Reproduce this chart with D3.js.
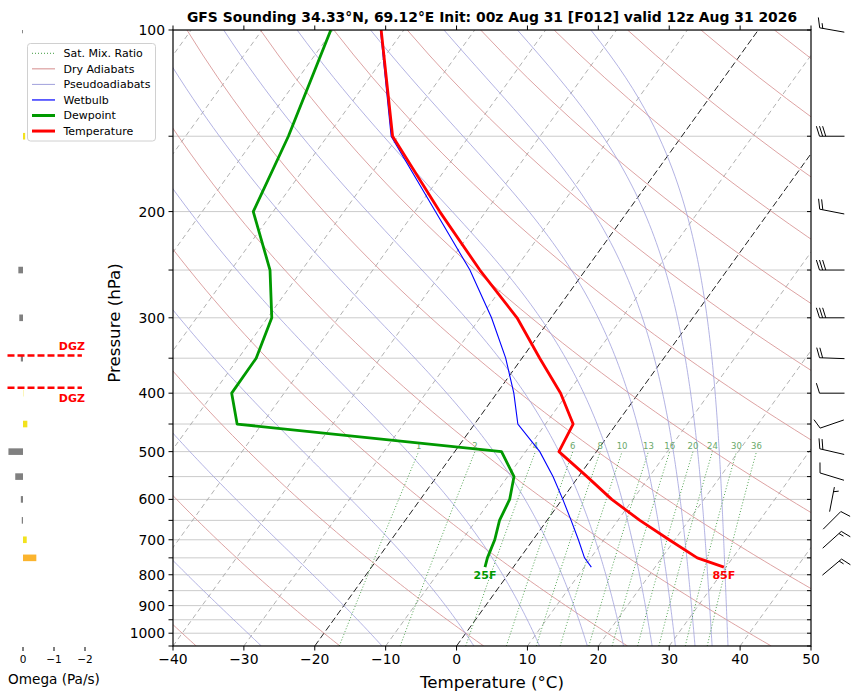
<!DOCTYPE html>
<html>
<head>
<meta charset="utf-8">
<script src="https://cdn.jsdelivr.net/npm/d3@7"></script>
<style>
  body { margin: 0; background: #fff; }
  svg { display: block; font-family: "DejaVu Sans", sans-serif; }
</style>
</head>
<body>
<div id="chart"></div>
<script>
// ---- sounding data ----
const levels      = [777, 750, 700, 650, 600, 550, 500, 450, 400, 350, 300, 250, 200, 150, 100];
const temperature = [29.7, 25.0, 19.2, 13.1, 7.0, 1.2, -5.3, -6.1, -11.0, -17.5, -24.8, -34.9, -46.5, -60.8, -73.2];
const dewpoint    = [-4.0, -4.6, -5.4, -6.7, -7.4, -9.1, -13.4, -53.5, -57.4, -57.5, -59.4, -64.5, -72.8, -75.5, -80.3];
const wetbulb     = [11.0, 9.1, 6.4, 3.4, 0.1, -3.6, -8.0, -13.9, -17.6, -22.3, -28.4, -36.3, -47.1, -61.0, -73.3];

const omegaLevels = [750, 700, 650, 600, 550, 500, 450, 400, 350, 300, 250, 200, 150, 100];
const omegaValues = [-0.43, -0.12, 0.04, 0.07, 0.25, 0.47, -0.14, -0.01, 0.07, 0.12, 0.15, 0.0, -0.07, 0.03];

const windLevels = [777, 700, 650, 600, 550, 500, 450, 400, 350, 300, 250, 200, 150, 100];
const windDir    = [50, 48, 45, 11, 287, 283, 251, 270, 272, 270, 270, 281, 270, 280];
const windSpeed  = [15, 15, 10, 5, 10, 20, 10, 10, 20, 30, 30, 20, 30, 15];

// ---- axes / background line sets ----
const pressureTicks = [100, 150, 200, 250, 300, 350, 400, 450, 500, 550, 600, 650, 700, 750, 800, 850, 900, 950, 1000, 1050];
const pressureLabels = [100, 200, 300, 400, 500, 600, 700, 800, 900, 1000];
const tempTicks = [-40, -30, -20, -10, 0, 10, 20, 30, 40, 50];
const omegaTicks = [0, -1, -2];
const isotherms = [-130, -120, -110, -100, -90, -80, -70, -60, -50, -40, -30, -20, -10, 0, 10, 20, 30, 40, 50];
const highlightIsotherms = [0, -20];
const dryAdiabatT0 = [-40, -20, 0, 20, 40, 60, 80, 100, 120, 140, 160, 180, 200, 220, 240, 260];
const moistTheta = [223.15, 243.15, 263.15, 283.15, 303.15, 323.15, 343.15, 363.15, 383.15, 403.15, 423.15, 443.15];
const mixRatios = [1, 2, 4, 6, 8, 10, 13, 16, 20, 24, 30, 36];

const title = "GFS Sounding 34.33°N, 69.12°E Init: 00z Aug 31 [F012] valid 12z Aug 31 2026";

// ---- constants ----
const Rd = 287.04749, Cp = 1004.6662, Lv = 2.50084e6, eps = 0.6219569;
const kappa = Rd / Cp;

const width = 856, height = 697;
const plotL = 173, plotR = 811, plotT = 30, plotB = 646;
const skew = 0.72; // px of x per px of height

const x = d3.scaleLinear().domain([-40, 50]).range([plotL, plotR]);
const y = d3.scaleLog().domain([1050, 100]).range([plotB, plotT]);
const xo = d3.scaleLinear().domain([0.5, -2.5]).range([7.5, 100.5]);

function sx(t, p) { return x(t) + skew * (plotB - y(p)); }

const line = d3.line().x(d => sx(d.t, d.p)).y(d => y(d.p));

function satVap(tk) { return 6.112 * Math.exp(17.67 * (tk - 273.15) / (tk - 29.65)); }
function satMix(p, tk) { const es = satVap(tk); return eps * es / (p - es); }
function dTdp(p, tk) {
    const rs = satMix(p, tk);
    return (Rd * tk + Lv * rs) / (Cp + Lv * Lv * rs * eps / (Rd * tk * tk)) / p;
}

const pSamples = d3.range(1050, 99, -10);

function dryLine(t0) {
    return pSamples.map(p => ({ p, t: (t0 + 273.15) * Math.pow(p / 1000, kappa) - 273.15 }));
}

function moistLine(theta) {
    let p = 100, T = theta * Math.pow(p / 1000, kappa);
    const pts = [{ p, t: T - 273.15 }];
    const dp = 5;
    while (p < 1050) {
        const k1 = dTdp(p, T);
        const k2 = dTdp(p + dp / 2, T + dp / 2 * k1);
        const k3 = dTdp(p + dp / 2, T + dp / 2 * k2);
        const k4 = dTdp(p + dp, T + dp * k3);
        T += dp / 6 * (k1 + 2 * k2 + 2 * k3 + k4);
        p += dp;
        pts.push({ p, t: T - 273.15 });
    }
    return pts;
}

function mixDewpoint(p, w) {
    const e = p * w / (eps + w);
    const v = Math.log(e / 6.112);
    return 243.5 * v / (17.67 - v);
}

function mixLine(wg) {
    const w = wg / 1000;
    return d3.range(1050, 499, -10).map(p => ({ p, t: mixDewpoint(p, w) }));
}

const svg = d3.select("#chart").append("svg")
    .attr("width", width)
    .attr("height", height)
    .attr("viewBox", [0, 0, width, height]);

svg.append("rect").attr("width", width).attr("height", height).attr("fill", "#fff");

const defs = svg.append("defs");
defs.append("clipPath").attr("id", "plotClip")
    .append("rect").attr("x", plotL).attr("y", plotT).attr("width", plotR - plotL).attr("height", plotB - plotT);
defs.append("clipPath").attr("id", "omegaClip")
    .append("rect").attr("x", 0).attr("y", plotT).attr("width", 160).attr("height", plotB - plotT);

const plot = svg.append("g").attr("clip-path", "url(#plotClip)");

// horizontal grid
plot.append("g")
    .selectAll("line")
    .data(pressureTicks)
    .join("line")
    .attr("x1", plotL).attr("x2", plotR)
    .attr("y1", d => y(d)).attr("y2", d => y(d))
    .attr("stroke", "#cbcbcb")
    .attr("stroke-width", 1);

// isotherms
plot.append("g")
    .selectAll("line")
    .data(isotherms.filter(t => !highlightIsotherms.includes(t)))
    .join("line")
    .attr("x1", t => sx(t, 1050)).attr("y1", y(1050))
    .attr("x2", t => sx(t, 100)).attr("y2", y(100))
    .attr("stroke", "#a8a8a8")
    .attr("stroke-width", 0.9)
    .attr("stroke-dasharray", "5,3.5");

plot.append("g")
    .selectAll("line")
    .data(highlightIsotherms)
    .join("line")
    .attr("x1", t => sx(t, 1050)).attr("y1", y(1050))
    .attr("x2", t => sx(t, 100)).attr("y2", y(100))
    .attr("stroke", "#222")
    .attr("stroke-width", 1)
    .attr("stroke-dasharray", "6.5,3");

// dry adiabats
plot.append("g")
    .selectAll("path")
    .data(dryAdiabatT0)
    .join("path")
    .attr("d", t0 => line(dryLine(t0)))
    .attr("fill", "none")
    .attr("stroke", "#d48c8c")
    .attr("stroke-width", 0.8);

// pseudoadiabats
plot.append("g")
    .selectAll("path")
    .data(moistTheta)
    .join("path")
    .attr("d", th => line(moistLine(th)))
    .attr("fill", "none")
    .attr("stroke", "#a0a0dc")
    .attr("stroke-width", 0.8);

// saturation mixing ratio
const mix = plot.append("g");
mix.selectAll("path")
    .data(mixRatios)
    .join("path")
    .attr("d", w => line(mixLine(w)))
    .attr("fill", "none")
    .attr("stroke", "#3f9a3f")
    .attr("stroke-width", 0.9)
    .attr("stroke-dasharray", "1,2");
mix.selectAll("text")
    .data(mixRatios)
    .join("text")
    .attr("x", w => sx(mixDewpoint(500, w / 1000), 500))
    .attr("y", y(500) - 3)
    .attr("text-anchor", "middle")
    .attr("font-size", 8.5)
    .attr("fill", "#6aa86a")
    .text(w => w);

// profiles
const profile = (vals) => levels.map((p, i) => ({ p, t: vals[i] }));

plot.append("path")
    .attr("d", line(profile(wetbulb)))
    .attr("fill", "none").attr("stroke", "#0000ff").attr("stroke-width", 1.1);
plot.append("path")
    .attr("d", line(profile(dewpoint)))
    .attr("fill", "none").attr("stroke", "#009900").attr("stroke-width", 2.8)
    .attr("stroke-linejoin", "round");
plot.append("path")
    .attr("d", line(profile(temperature)))
    .attr("fill", "none").attr("stroke", "#ff0000").attr("stroke-width", 2.8)
    .attr("stroke-linejoin", "round");

// surface labels
const toF = c => Math.round(c * 9 / 5 + 32);
svg.append("text")
    .attr("x", sx(dewpoint[0], levels[0])).attr("y", y(levels[0]) + 12)
    .attr("text-anchor", "middle").attr("font-size", 11).attr("font-weight", "bold")
    .attr("fill", "#009900").text(toF(dewpoint[0]) + "F");
svg.append("text")
    .attr("x", sx(temperature[0], levels[0])).attr("y", y(levels[0]) + 12)
    .attr("text-anchor", "middle").attr("font-size", 11).attr("font-weight", "bold")
    .attr("fill", "#ff0000").text(toF(temperature[0]) + "F");

// frame
svg.append("rect")
    .attr("x", plotL).attr("y", plotT).attr("width", plotR - plotL).attr("height", plotB - plotT)
    .attr("fill", "none").attr("stroke", "#000").attr("stroke-width", 1.2);

// left axis ticks
const yAxis = svg.append("g").attr("font-size", 13.9);
yAxis.selectAll("line")
    .data(pressureTicks)
    .join("line")
    .attr("x1", plotL - 4.5).attr("x2", plotL)
    .attr("y1", d => y(d)).attr("y2", d => y(d))
    .attr("stroke", "#000");
yAxis.selectAll("text")
    .data(pressureLabels)
    .join("text")
    .attr("x", plotL - 8).attr("y", d => y(d))
    .attr("dy", "0.36em")
    .attr("text-anchor", "end")
    .text(d => d);

// right (barb axis) ticks
svg.append("g").selectAll("line")
    .data(pressureTicks)
    .join("line")
    .attr("x1", plotR - 4).attr("x2", plotR)
    .attr("y1", d => y(d)).attr("y2", d => y(d))
    .attr("stroke", "#000");

// bottom and top ticks
const xAxis = svg.append("g").attr("font-size", 13.9);
xAxis.selectAll("line.b")
    .data(tempTicks)
    .join("line")
    .attr("class", "b")
    .attr("x1", d => x(d)).attr("x2", d => x(d))
    .attr("y1", plotB).attr("y2", plotB + 4.5)
    .attr("stroke", "#000");
xAxis.selectAll("line.t")
    .data(tempTicks)
    .join("line")
    .attr("class", "t")
    .attr("x1", d => x(d)).attr("x2", d => x(d))
    .attr("y1", plotT - 4.5).attr("y2", plotT)
    .attr("stroke", "#000");
xAxis.selectAll("text")
    .data(tempTicks)
    .join("text")
    .attr("x", d => x(d)).attr("y", plotB + 13)
    .attr("dy", "0.36em")
    .attr("text-anchor", "middle")
    .text(d => d < 0 ? "\u2212" + Math.abs(d) : d);

svg.append("text")
    .attr("x", (plotL + plotR) / 2).attr("y", 688)
    .attr("text-anchor", "middle").attr("font-size", 16.7)
    .text("Temperature (°C)");
svg.append("text")
    .attr("transform", `translate(120,${(plotT + plotB) / 2 - 15}) rotate(-90)`)
    .attr("text-anchor", "middle").attr("font-size", 16.7)
    .text("Pressure (hPa)");
svg.append("text")
    .attr("x", (plotL + plotR) / 2).attr("y", 22)
    .attr("text-anchor", "middle").attr("font-size", 13.9).attr("font-weight", "bold")
    .text(title);

// ---- omega panel ----
const omegaColor = w => w >= 0 ? "#808080" : (w < -0.3 ? "#fbb42e" : "#f2e21e");
const om = svg.append("g").attr("clip-path", "url(#omegaClip)");
om.selectAll("rect")
    .data(omegaLevels.map((p, i) => ({ p, w: omegaValues[i] })))
    .join("rect")
    .attr("x", d => Math.min(xo(0), xo(d.w)))
    .attr("width", d => Math.abs(xo(d.w) - xo(0)))
    .attr("y", d => y(d.p) - 3.3)
    .attr("height", 6.6)
    .attr("fill", d => omegaColor(d.w));

// DGZ from temperature profile
function pressureAt(tTarget) {
    for (let i = 0; i < levels.length - 1; i++) {
        const t1 = temperature[i], t2 = temperature[i + 1];
        if ((t1 - tTarget) * (t2 - tTarget) <= 0 && t1 !== t2) {
            const f = (tTarget - t1) / (t2 - t1);
            return Math.exp(Math.log(levels[i]) + f * (Math.log(levels[i + 1]) - Math.log(levels[i])));
        }
    }
    return null;
}
const dgzTop = pressureAt(-18), dgzBottom = pressureAt(-12);
const dgzX2 = xo.range()[0] + 0.8 * (xo.range()[1] - xo.range()[0]);
[dgzTop, dgzBottom].forEach((p, i) => {
    svg.append("line")
        .attr("x1", xo.range()[0]).attr("x2", dgzX2)
        .attr("y1", y(p)).attr("y2", y(p))
        .attr("stroke", "#ff0000").attr("stroke-width", 2.6)
        .attr("stroke-dasharray", "7,3");
    svg.append("text")
        .attr("x", dgzX2 + 3).attr("y", i === 0 ? y(p) - 5 : y(p) + 14)
        .attr("text-anchor", "end").attr("font-size", 11).attr("font-weight", "bold")
        .attr("fill", "#ff0000").text("DGZ");
});

const oAxis = svg.append("g").attr("font-size", 10.5);
oAxis.selectAll("line")
    .data(omegaTicks)
    .join("line")
    .attr("x1", d => xo(d)).attr("x2", d => xo(d))
    .attr("y1", plotB + 1).attr("y2", plotB + 5)
    .attr("stroke", "#000");
oAxis.selectAll("text")
    .data(omegaTicks)
    .join("text")
    .attr("x", d => xo(d)).attr("y", plotB + 13)
    .attr("dy", "0.36em")
    .attr("text-anchor", "middle")
    .text(d => d < 0 ? "\u2212" + Math.abs(d) : d);
svg.append("text")
    .attr("x", xo(-1)).attr("y", 684)
    .attr("text-anchor", "middle").attr("font-size", 13.6)
    .text("Omega (Pa/s)");

// ---- wind barbs ----
function barbPath(cx, cy, dirDeg, spd) {
    const L = 25;
    const a = dirDeg * Math.PI / 180;
    const d = [Math.sin(a), -Math.cos(a)];
    const n = [-d[1], d[0]];
    const S = [cx - d[0] * L / 2, cy - d[1] * L / 2];
    const pt = (pos, h, along) => [S[0] + d[0] * (pos + along) + n[0] * h, S[1] + d[1] * (pos + along) + n[1] * h];
    const path = d3.path();
    path.moveTo(S[0], S[1]);
    const E = pt(L, 0, 0);
    path.lineTo(E[0], E[1]);
    let s = Math.round(spd / 5) * 5;
    const flags = Math.floor(s / 50); s -= flags * 50;
    const fulls = Math.floor(s / 10); s -= fulls * 10;
    const half = s >= 5;
    const spacing = 0.125 * L;
    let pos = L;
    for (let i = 0; i < flags; i++) {
        const p0 = pt(pos, 0, 0), p1 = pt(pos, 0.4 * L, -0.125 * L), p2 = pt(pos, 0, -0.25 * L);
        path.moveTo(p0[0], p0[1]); path.lineTo(p1[0], p1[1]); path.lineTo(p2[0], p2[1]);
        pos -= 0.25 * L + spacing;
    }
    for (let i = 0; i < fulls; i++) {
        const p0 = pt(pos, 0, 0), p1 = pt(pos, 0.4 * L, 0.125 * L);
        path.moveTo(p0[0], p0[1]); path.lineTo(p1[0], p1[1]);
        pos -= spacing;
    }
    if (half) {
        if (pos === L) pos -= 1.5 * spacing;
        const p0 = pt(pos, 0, 0), p1 = pt(pos, 0.2 * L, 0.0625 * L);
        path.moveTo(p0[0], p0[1]); path.lineTo(p1[0], p1[1]);
    }
    return path.toString();
}

svg.append("g")
    .selectAll("path")
    .data(windLevels.map((p, i) => ({ p, dir: windDir[i], spd: windSpeed[i] })))
    .join("path")
    .attr("d", d => barbPath(832, y(d.p), d.dir, d.spd))
    .attr("fill", "none")
    .attr("stroke", "#000")
    .attr("stroke-width", 1);

// ---- legend ----
const legendItems = [
    { label: "Sat. Mix. Ratio", color: "#3f9a3f", w: 1, dash: "1,2" },
    { label: "Dry Adiabats", color: "#d48c8c", w: 1, dash: null },
    { label: "Pseudoadiabats", color: "#a0a0dc", w: 1, dash: null },
    { label: "Wetbulb", color: "#0000ff", w: 1.2, dash: null },
    { label: "Dewpoint", color: "#009900", w: 3, dash: null },
    { label: "Temperature", color: "#ff0000", w: 3, dash: null }
];
const legend = svg.append("g").attr("font-size", 11);
legend.append("rect")
    .attr("x", 27.5).attr("y", 43.5).attr("width", 128).attr("height", 97.5)
    .attr("rx", 3).attr("fill", "#fff").attr("fill-opacity", 0.85)
    .attr("stroke", "#d0d0d0");
const rows = legend.selectAll("g")
    .data(legendItems)
    .join("g")
    .attr("transform", (d, i) => `translate(0,${53.3 + i * 15.55})`);
rows.append("line")
    .attr("x1", 32).attr("x2", 55)
    .attr("stroke", d => d.color)
    .attr("stroke-width", d => d.w)
    .attr("stroke-dasharray", d => d.dash);
rows.append("text")
    .attr("x", 63.5).attr("dy", "0.36em")
    .text(d => d.label);
</script>
</body>
</html>
